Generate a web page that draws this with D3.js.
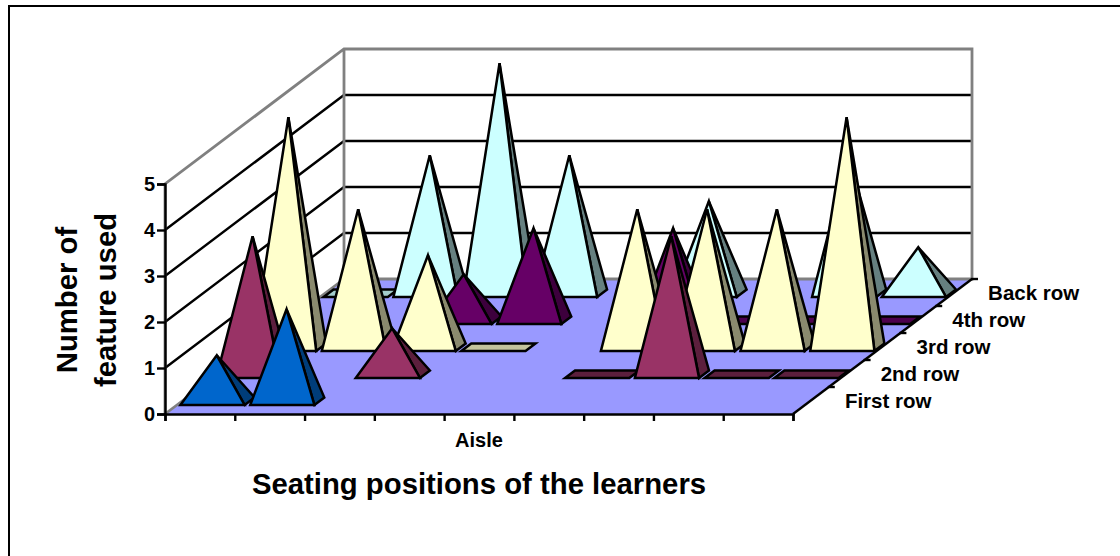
<!DOCTYPE html>
<html>
<head>
<meta charset="utf-8">
<script src="https://cdn.jsdelivr.net/npm/d3@7/dist/d3.min.js"></script>
<style>
  html, body { margin: 0; padding: 0; background: #fff; }
  svg { display: block; }
  text { font-family: "Liberation Sans", Arial, sans-serif; font-weight: bold; fill: #000; }
</style>
</head>
<body>
<script>
// Seating positions along the row; only the aisle slot carries a label.
const seatLabels = ["", "", "", "", "Aisle", "", "", "", ""];
const rowLabels = ["First row", "2nd row", "3rd row", "4th row", "Back row"];
const valueTicks = [0, 1, 2, 3, 4, 5];

// Feature counts per seat; null means the seat was empty, 0 draws a flat plate.
const firstRow = [1, 2, null, null, null, null, null, null, null];
const secondRow = [3, null, 1, null, null, 0, 3, 0, 0];
const thirdRow = [5, 3, 2, 0, null, 3, 3, 3, 5];
const fourthRow = [null, null, 1, 2, null, 2, 0, 0, 0];
const backRow = [0, 3, 5, 3, null, 2, null, 3, 1];

const rowValues = [firstRow, secondRow, thirdRow, fourthRow, backRow];
const frontFill = ["#0066cc", "#993366", "#ffffcc", "#660066", "#ccffff"];
const sideFill = ["#003d7a", "#5c1f3d", "#8a8a6e", "#3d003d", "#668080"];
const plateFill = ["#003d7a", "#5c1f3d", "#c4c49c", "#4d004d", "#a3cccc"];

const width = 1120, height = 556;
const svg = d3.select("body").append("svg").attr("width", width).attr("height", height);

// Oblique projection: seat runs right, row runs up and to the right, value runs up.
const seatX = d3.scaleLinear().domain([0, 9]).range([165, 793]);
const valueY = d3.scaleLinear().domain([0, 5]).range([414, 184]);
const rowDX = d3.scaleLinear().domain([0, 5]).range([0, 179]);
const rowDY = d3.scaleLinear().domain([0, 5]).range([0, -135]);
const pt = (seat, row, value) => [seatX(seat) + rowDX(row), valueY(value) + rowDY(row)];
const poly = pts => pts.map(p => p.join(",")).join(" ");

// Frame runs off the right and bottom of the page
svg.append("polyline").attr("points", poly([[9, 560], [9, 6], [1124, 6]]))
  .attr("fill", "none").attr("stroke", "#000").attr("stroke-width", 2);

// Floor
svg.append("polygon")
  .attr("points", poly([pt(0, 0, 0), pt(9, 0, 0), pt(9, 5, 0), pt(0, 5, 0)]))
  .attr("fill", "#9999ff");

// Gridlines across the side wall and back wall
const grid = svg.append("g");
valueTicks.filter(v => v > 0 && v < 5).forEach(v => {
  grid.append("polyline")
    .attr("points", poly([pt(0, 0, v), pt(0, 5, v), pt(9, 5, v)]))
    .attr("fill", "none").attr("stroke", "#000").attr("stroke-width", 2.4);
});

// Wall outline
svg.append("polyline")
  .attr("points", poly([pt(0, 0, 0), pt(0, 0, 5), pt(0, 5, 5), pt(9, 5, 5), pt(9, 5, 0), pt(0, 5, 0), pt(0, 5, 5)]))
  .attr("fill", "none").attr("stroke", "#808080").attr("stroke-width", 2.8);
svg.append("line")
  .attr("x1", pt(0, 0, 0)[0]).attr("y1", pt(0, 0, 0)[1])
  .attr("x2", pt(0, 5, 0)[0]).attr("y2", pt(0, 5, 0)[1])
  .attr("stroke", "#808080").attr("stroke-width", 2.8);

// Pyramids, back row first so nearer rows overlap them
const pad = 0.05, padRight = 0.03, rowFront = 0.333, rowBack = 0.61;
const marks = svg.append("g").attr("stroke", "#000").attr("stroke-width", 2.5).attr("stroke-linejoin", "miter");
d3.range(rowValues.length - 1, -1, -1).forEach(r => {
  rowValues[r].forEach((v, c) => {
    if (v === null) return;
    const fl = pt(c + pad, r + rowFront, 0);
    const fr = pt(c + 1 - padRight, r + rowFront, 0);
    const br = pt(c + 1 - padRight, r + rowBack, 0);
    const bl = pt(c + pad, r + rowBack, 0);
    if (v === 0) {
      marks.append("polygon").attr("points", poly([fl, fr, br, bl])).attr("fill", plateFill[r]);
      return;
    }
    const apex = pt(c + 0.5, r + (rowFront + rowBack) / 2, v);
    marks.append("polygon").attr("points", poly([fr, br, apex])).attr("fill", sideFill[r]);
    marks.append("polygon").attr("points", poly([fl, fr, apex])).attr("fill", frontFill[r]);
  });
});

// Front axes
const yAxis = d3.axisLeft(valueY).tickValues(valueTicks).tickSize(8).tickPadding(2).tickFormat(d3.format("d"));
const yG = svg.append("g").attr("transform", `translate(${seatX(0)},0)`).call(yAxis);
yG.selectAll("path, line").attr("stroke", "#000").attr("stroke-width", 2.4);
yG.selectAll("text").attr("font-size", 20).style("font-family", '"Liberation Sans", Arial, sans-serif');

const xAxis = d3.axisBottom(seatX).tickValues(d3.range(0, 10)).tickSize(7).tickFormat("");
const xG = svg.append("g").attr("transform", `translate(0,${valueY(0)})`).call(xAxis);
xG.selectAll("path, line").attr("stroke", "#000").attr("stroke-width", 2.4);

// Right floor edge with its row ticks
svg.append("line")
  .attr("x1", pt(9, 0, 0)[0]).attr("y1", pt(9, 0, 0)[1])
  .attr("x2", pt(9, 5, 0)[0]).attr("y2", pt(9, 5, 0)[1])
  .attr("stroke", "#000").attr("stroke-width", 2.4);
d3.range(1, 6).forEach(r => {
  const p = pt(9, r, 0);
  svg.append("line").attr("x1", p[0] - 1).attr("y1", p[1]).attr("x2", p[0] + 6).attr("y2", p[1])
    .attr("stroke", "#000").attr("stroke-width", 2.4);
});

// Seat labels
seatLabels.forEach((s, i) => {
  if (!s) return;
  svg.append("text").attr("x", seatX(i + 0.5)).attr("y", 447)
    .attr("text-anchor", "middle").attr("font-size", 20).text(s);
});

// Row labels sit just past the right floor edge
rowLabels.forEach((s, r) => {
  const p = pt(9, r + 0.5, 0);
  svg.append("text").attr("x", p[0] + 34).attr("y", p[1] + 7)
    .attr("font-size", 20.5).text(s);
});

// Axis titles
svg.append("text").attr("x", 479).attr("y", 494).attr("text-anchor", "middle")
  .attr("font-size", 29.3).text("Seating positions of the learners");
const yTitle = svg.append("text").attr("transform", "translate(77,300) rotate(-90)")
  .attr("text-anchor", "middle").attr("font-size", 29.3);
yTitle.append("tspan").attr("x", 0).attr("dy", 0).text("Number of");
yTitle.append("tspan").attr("x", 0).attr("dy", 39).text("feature used");
</script>
</body>
</html>
